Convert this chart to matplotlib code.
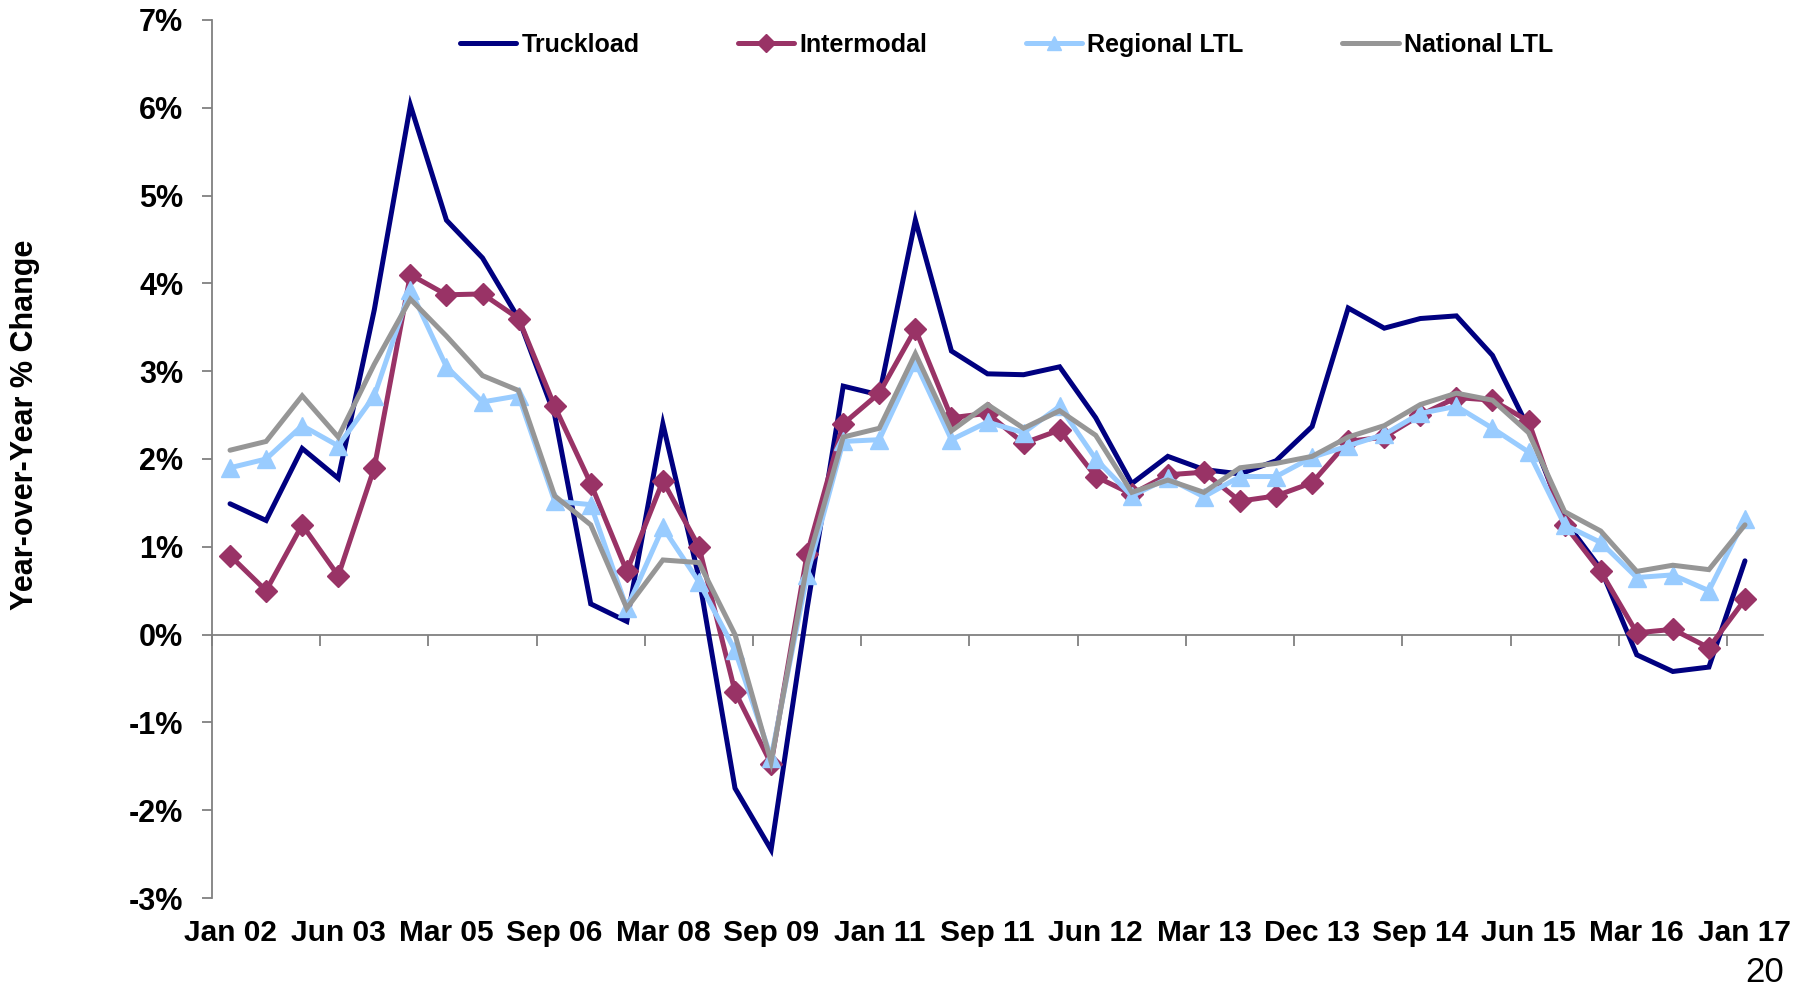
import matplotlib
matplotlib.use("Agg")
import matplotlib.pyplot as plt
from matplotlib.ticker import FuncFormatter, MultipleLocator

plt.rcParams['font.family'] = ['Liberation Sans', 'DejaVu Sans']

tick_labels = ["Jan 02", "Jun 03", "Mar 05", "Sep 06", "Mar 08", "Sep 09", "Jan 11",
               "Sep 11", "Jun 12", "Mar 13", "Dec 13", "Sep 14", "Jun 15", "Mar 16", "Jan 17"]

truckload = [1.49, 1.30, 2.12, 1.78, 3.70, 6.03, 4.72, 4.29, 3.60, 2.50, 0.35, 0.15, 2.40, 0.65,
             -1.75, -2.45, 0.30, 2.83, 2.73, 4.72, 3.23, 2.97, 2.96, 3.05, 2.47, 1.72, 2.03, 1.88,
             1.83, 1.98, 2.37, 3.72, 3.49, 3.60, 3.63, 3.18, 2.35, 1.30, 0.75, -0.23, -0.42, -0.37, 0.84]
intermodal = [0.90, 0.50, 1.25, 0.67, 1.90, 4.10, 3.87, 3.88, 3.60, 2.60, 1.72, 0.72, 1.75, 1.00,
              -0.65, -1.47, 0.92, 2.40, 2.75, 3.48, 2.47, 2.52, 2.18, 2.33, 1.80, 1.60, 1.82, 1.85,
              1.52, 1.58, 1.73, 2.20, 2.25, 2.50, 2.70, 2.67, 2.43, 1.25, 0.72, 0.02, 0.06, -0.15, 0.40]
regional_ltl = [1.90, 2.00, 2.38, 2.15, 2.72, 3.93, 3.05, 2.65, 2.72, 1.52, 1.48, 0.30, 1.22, 0.60,
                -0.18, -1.40, 0.68, 2.20, 2.22, 3.10, 2.22, 2.42, 2.30, 2.60, 2.00, 1.58, 1.78, 1.57,
                1.80, 1.80, 2.02, 2.15, 2.28, 2.52, 2.60, 2.35, 2.08, 1.25, 1.05, 0.65, 0.68, 0.50, 1.32]
national_ltl = [2.10, 2.20, 2.72, 2.25, 3.08, 3.82, 3.40, 2.95, 2.78, 1.58, 1.25, 0.30, 0.85, 0.82,
                0.00, -1.45, 0.80, 2.25, 2.35, 3.20, 2.32, 2.62, 2.35, 2.55, 2.27, 1.62, 1.76, 1.62,
                1.90, 1.95, 2.03, 2.25, 2.38, 2.62, 2.75, 2.67, 2.30, 1.40, 1.18, 0.72, 0.79, 0.74, 1.25]

series_names = ["Truckload", "Intermodal", "Regional LTL", "National LTL"]
colors = ["#000080", "#993366", "#99CCFF", "#969696"]
markers = [None, "D", "^", None]

n = len(truckload)
x = list(range(n))

fig = plt.figure(figsize=(18.14, 9.86), dpi=100)
ax = fig.add_axes([212/1814, 1-898/986, (1763-212)/1814, (898-20)/986])

data = [truckload, intermodal, regional_ltl, national_ltl]
msizes = [0, 11, 13, 0]
for i, (vals, name, c, m) in enumerate(zip(data, series_names, colors, markers)):
    ax.plot(x, vals, color=c, lw=3.6, marker=m, markersize=msizes[i],
            markeredgecolor=c, markerfacecolor=c, label=name, zorder=3+i,
            solid_joinstyle='miter', solid_capstyle='round')

ax.set_xlim(-0.5, n-0.5)
ax.set_ylim(-3, 7)
ax.yaxis.set_major_locator(MultipleLocator(1))
ax.yaxis.set_major_formatter(FuncFormatter(lambda v, p: f"{int(round(v))}%"))

for s in ["top", "right", "bottom"]:
    ax.spines[s].set_visible(False)
ax.spines["left"].set_color("#808080")
ax.spines["left"].set_linewidth(1.3)
ax.tick_params(axis='y', direction='out', length=7.2, width=1.3, color="#808080",
               labelsize=22, pad=13.5)
for lab in ax.get_yticklabels():
    lab.set_fontweight('bold')

# category labels at bottom of plot area
ax.set_xticks(x[::3])
ax.set_xticklabels(tick_labels, fontsize=21.5, fontweight='bold')
ax.tick_params(axis='x', length=0, pad=15)

# zero axis line with tick marks every 3 categories
sec = ax.secondary_xaxis(0.3)
sec.spines["bottom"].set_color("#808080")
sec.spines["bottom"].set_linewidth(1.3)
sec.set_xticks([k - 0.5 for k in range(0, n + 1, 3)])
sec.set_xticklabels([])
sec.tick_params(axis='x', direction='out', length=8, width=1.3, color="#808080")

fig.text(25/1814, 1-425/986, "Year-over-Year % Change", rotation=90,
         fontsize=22, fontweight='bold', ha='center', va='center')

leg = fig.legend(loc='center left', bbox_to_anchor=(460/1814, 1-45/986), ncol=4,
                 frameon=False, handlelength=2.25, handletextpad=0.2,
                 columnspacing=3.95, borderaxespad=0, borderpad=0, numpoints=1,
                 markerscale=0.8, prop={'weight': 'bold', 'size': 18})

fig.text(1765/1814, 1-972/986, "20", fontsize=25, ha='center', va='center')

fig.savefig("out.png", dpi=100)
